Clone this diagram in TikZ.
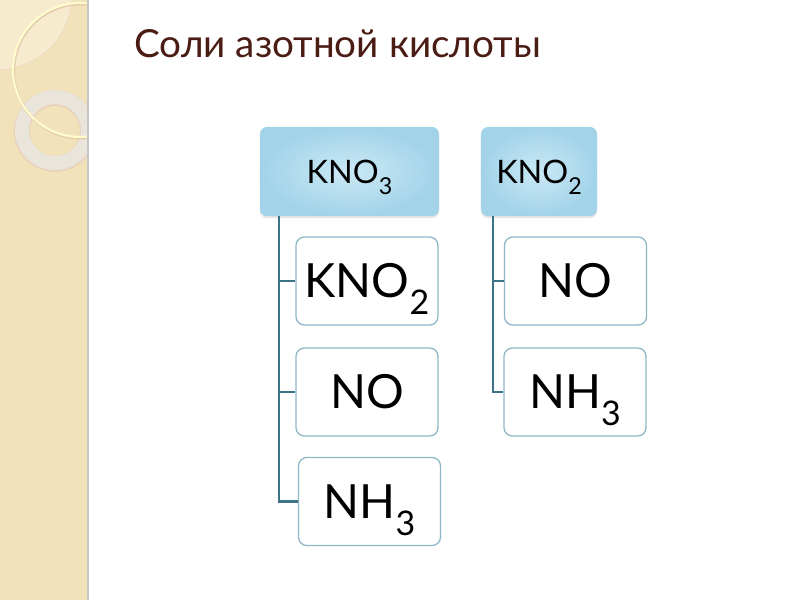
\documentclass[tikz,border=0pt]{standalone}
\usepackage{fontspec}
\setmainfont{Lato}
\usepackage{graphicx}
\usepackage{tikz}
\usetikzlibrary{shadows}
\usepackage{xcolor}

\definecolor{stripbeige}{HTML}{F2E2BA}
\definecolor{leafcream}{HTML}{F6EBCF}
\definecolor{ringgray}{HTML}{E9E5DB}
\definecolor{titlebrown}{HTML}{4A1C14}
\definecolor{headin}{HTML}{CBE9F5}
\definecolor{headout}{HTML}{A2D3E9}
\definecolor{boxline}{HTML}{8DB7C7}
\definecolor{linkteal}{HTML}{3D7386}

\newcommand{\ix}[1]{\raisebox{-0.36em}[0pt][0pt]{\scalebox{0.72}{#1}}}

\tikzset{
  head/.style={rounded corners=5pt, inner color=headin, outer color=headout,
    minimum height=2.225cm, font=\fontsize{23}{25}\selectfont,
    drop shadow={opacity=0.2, shadow xshift=0pt, shadow yshift=-1.5pt}},
  leaf/.style={draw=boxline, line width=0.9pt, rounded corners=6pt, fill=white,
    minimum width=3.55cm, minimum height=2.2cm, font=\fontsize{33.5}{36}\selectfont},
  link/.style={draw=linkteal, line width=1.7pt}
}

\begin{document}
\begin{tikzpicture}[x=0.025cm, y=-0.025cm]  % 1 unit = 1 px
\useasboundingbox (0,0) rectangle (800,600);
\fill[white] (0,0) rectangle (800,600);

% Left strip
\begin{scope}
\clip (0,0) rectangle (88,600);
\fill[stripbeige] (0,0) rectangle (88,600);
\fill[leafcream] (0,0) -- (72,0) .. controls (68,40) and (40,66) .. (0,70) -- cycle;  % light corner
\draw[brown!30, line width=0.5pt] (72,0) .. controls (68,40) and (40,66) .. (0,70);  % corner edge
\draw[brown!35, line width=11.5pt] (55,130.8) circle (33);  % ring edge
\draw[ringgray, line width=10pt] (55,130) circle (33);  % ring
\draw[brown!45, line width=2pt] (80.6,71) circle (67);  % thin circle shadow
\draw[white!80!yellow, line width=1.6pt] (80,70) circle (67);  % thin circle
\end{scope}
\draw[gray!45, line width=1pt] (88,0) -- (88,600);  % strip edge

% Title
\node[anchor=base west, text=titlebrown, font=\fontsize{27.5}{31}\selectfont, inner sep=0pt] (title) at (134,57) {Соли азотной кислоты};

% Column 1
\node[head, minimum width=4.475cm] (h1) at (349.5,171.5) {KNO\ix{3}};
\node[leaf] (a1) at (367,281) {KNO\ix{2}};
\node[leaf] (a2) at (367,392) {NO};
\node[leaf] (a3) at (369.5,501.5) {NH\ix{3}};
\coordinate (t1) at (279,216);
\draw[link] (t1) |- (a3.west);
\draw[link] (t1 |- a1.west) -- (a1.west);
\draw[link] (t1 |- a2.west) -- (a2.west);

% Column 2
\node[head, minimum width=2.9cm] (h2) at (539,171.5) {KNO\ix{2}};
\node[leaf] (b1) at (575.5,281) {NO};
\node[leaf] (b2) at (575,392) {NH\ix{3}};
\coordinate (t2) at (493,216);
\draw[link] (t2) |- (b2.west);
\draw[link] (t2 |- b1.west) -- (b1.west);
\end{tikzpicture}
\end{document}
